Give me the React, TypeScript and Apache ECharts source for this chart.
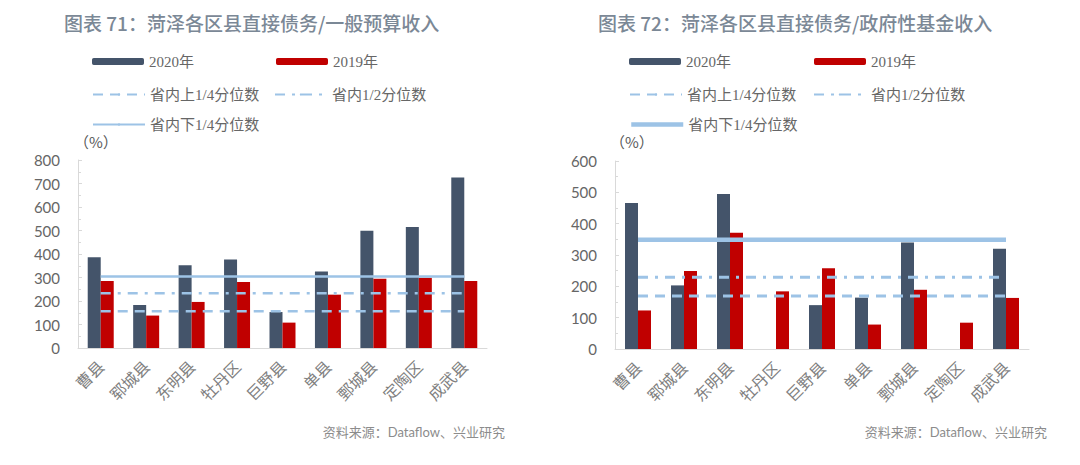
import React, { useEffect, useRef } from "react";
import * as echarts from "echarts";

const categories = ["曹县", "郓城县", "东明县", "牡丹区", "巨野县", "单县", "鄄城县", "定陶区", "成武县"];

// Chart 71: direct debt / general budget revenue
const left2020 = [386, 183, 352, 377, 153, 326, 499, 515, 726];
const left2019 = [285, 138, 196, 281, 108, 227, 295, 299, 285];
const leftUpperQ = [156, 156, 156, 156, 156, 156, 156, 156, 156];
const leftMedian = [233, 233, 233, 233, 233, 233, 233, 233, 233];
const leftLowerQ = [304, 304, 304, 304, 304, 304, 304, 304, 304];

// Chart 72: direct debt / government fund revenue
const right2020 = [466, 203, 495, null, 140, 164, 340, null, 320];
const right2019 = [123, 249, 371, 184, 258, 78, 189, 84, 163];
const rightUpperQ = [169, 169, 169, 169, 169, 169, 169, 169, 169];
const rightMedian = [229, 229, 229, 229, 229, 229, 229, 229, 229];
const rightLowerQ = [349, 349, 349, 349, 349, 349, 349, 349, 349];

const leftTicks = { min: 0, max: 800, interval: 100 };
const rightTicks = { min: 0, max: 600, interval: 100 };

const C2020 = "#44546a";
const C2019 = "#c00000";
const CLINE = "#9dc3e6";
const SERIF = "'Liberation Serif', 'Noto Sans CJK SC', serif";
const SANS = "Lato, 'Noto Sans CJK SC', sans-serif";
const CJK = "'Noto Sans CJK SC', sans-serif";

export default function App() {
  const ref = useRef<HTMLDivElement>(null);

  useEffect(() => {
    if (!ref.current) return;
    const chart = echarts.init(ref.current, null, { renderer: "svg" });

    const legendText = { fontSize: 15, color: "#666", fontFamily: SERIF };
    const mkLegend = (name: string, left: number, top: number, itemHeight: number, extra: any = {}) => ({
      show: true,
      left,
      top,
      padding: 0,
      itemWidth: 52,
      itemHeight,
      itemGap: 0,
      selectedMode: false,
      textStyle: legendText,
      data: [{ name, ...extra }],
    });

    const grids = [
      { left: 78, right: 593, top: 160, bottom: 117 },
      { left: 615, right: 51, top: 161, bottom: 116 },
    ];

    const xAxis = [0, 1].map((i) => ({
      type: "category",
      gridIndex: i,
      data: categories,
      axisLine: { lineStyle: { color: "#d9d9d9", width: 1 } },
      axisTick: { show: false },
      axisLabel: {
        rotate: 45,
        fontSize: 16,
        color: "#7f7f7f",
        fontFamily: CJK,
        margin: 15,
        interval: 0,
      },
    }));

    const yAxis = [leftTicks, rightTicks].map((t, i) => ({
      type: "value",
      gridIndex: i,
      min: t.min,
      max: t.max,
      interval: t.interval,
      splitLine: { show: false },
      axisLine: { show: true, lineStyle: { color: "#d9d9d9" } },
      axisTick: { show: true, inside: true, length: 4, lineStyle: { color: "#d9d9d9" } },
      minorTick: { show: true, splitNumber: 2, length: 3, lineStyle: { color: "#d9d9d9" } },
      axisLabel: { fontSize: 15, color: "#666", fontFamily: SANS, margin: 18 },
    }));

    const barSeries = (name: string, data: any[], color: string, idx: number) => ({
      name,
      type: "bar",
      xAxisIndex: idx,
      yAxisIndex: idx,
      data,
      barWidth: 13,
      barGap: "0%",
      itemStyle: { color },
    });
    const lineSeries = (name: string, data: number[], type: any, width: number, idx: number) => ({
      name,
      type: "line",
      xAxisIndex: idx,
      yAxisIndex: idx,
      data,
      symbol: "none",
      lineStyle: { color: CLINE, width, type },
      itemStyle: { color: CLINE },
      z: 5,
    });

    const dashed = [10, 7];
    const dashDot = [10, 7, 3, 7];

    const series = [
      barSeries("2020年", left2020, C2020, 0),
      barSeries("2019年", left2019, C2019, 0),
      lineSeries("省内上1/4分位数", leftUpperQ, dashed, 2.5, 0),
      lineSeries("省内1/2分位数", leftMedian, dashDot, 2.5, 0),
      lineSeries("省内下1/4分位数", leftLowerQ, "solid", 2.5, 0),
      barSeries("2020年", right2020, C2020, 1),
      barSeries("2019年", right2019, C2019, 1),
      lineSeries("省内上1/4分位数", rightUpperQ, dashed, 3, 1),
      lineSeries("省内1/2分位数", rightMedian, dashDot, 3, 1),
      lineSeries("省内下1/4分位数", rightLowerQ, "solid", 4.5, 1),
    ];

    const legend = [
      mkLegend("2020年", 92, 54, 7),
      mkLegend("2019年", 276, 54, 7),
      mkLegend("省内上1/4分位数", 92, 87, 3),
      mkLegend("省内1/2分位数", 274, 87, 3),
      mkLegend("省内下1/4分位数", 92, 117, 3),
      mkLegend("2020年", 629, 54, 7),
      mkLegend("2019年", 814, 54, 7),
      mkLegend("省内上1/4分位数", 629, 87, 3),
      mkLegend("省内1/2分位数", 813, 87, 3),
      mkLegend("省内下1/4分位数", 629, 117, 4, { lineStyle: { width: 4.5 } }),
    ];

    const titleStyle = { fontSize: 19, color: "#7b8896", fontFamily: CJK, fontWeight: 500 as any };

    chart.setOption({
      animation: false,
      backgroundColor: "#fff",
      title: [
        { text: "图表 71：菏泽各区县直接债务/一般预算收入", left: 64, top: 13, padding: 0, textStyle: titleStyle },
        { text: "图表 72：菏泽各区县直接债务/政府性基金收入", left: 598, top: 13, padding: 0, textStyle: titleStyle },
      ],
      legend,
      grid: grids,
      xAxis,
      yAxis,
      series,
      graphic: [
        { type: "text", left: 74, top: 134, style: { text: "（%）", fontSize: 15, fill: "#595959", fontFamily: CJK } },
        { type: "text", left: 610, top: 134, style: { text: "（%）", fontSize: 15, fill: "#595959", fontFamily: CJK } },
        { type: "text", right: 575, top: 425, style: { text: "资料来源：Dataflow、兴业研究", fontSize: 13, fill: "#8c8c8c", fontFamily: SANS } },
        { type: "text", right: 33, top: 425, style: { text: "资料来源：Dataflow、兴业研究", fontSize: 13, fill: "#8c8c8c", fontFamily: SANS } },
      ],
    });

    return () => chart.dispose();
  }, []);

  return <div ref={ref} style={{ position: "fixed", left: 0, top: 0, width: 1080, height: 465 }} />;
}
